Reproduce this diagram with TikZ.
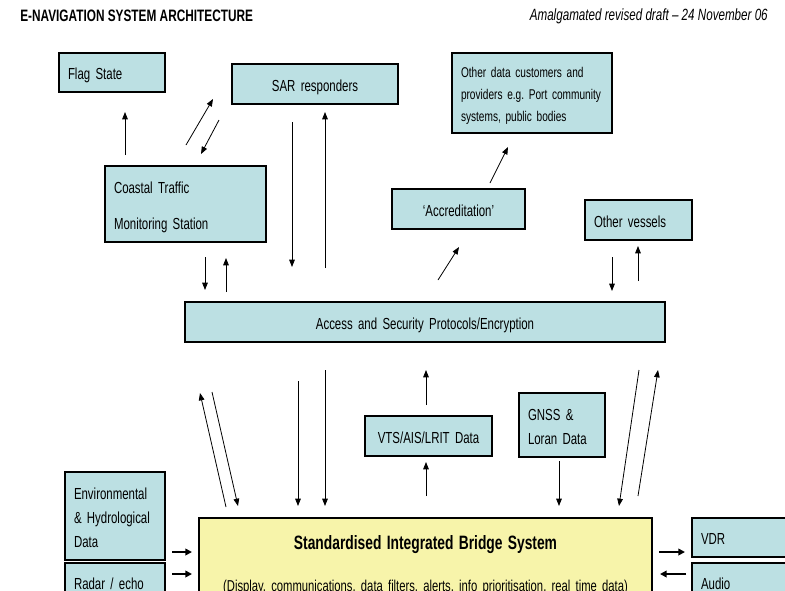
\documentclass[tikz,border=0pt]{standalone}
\usepackage{fontspec}
\setmainfont{Liberation Sans}[FakeStretch=0.715]
\usetikzlibrary{arrows.meta}
\definecolor{boxblue}{HTML}{BCE0E3}
\definecolor{ibsyellow}{HTML}{F7F4AA}
\tikzset{
  panel/.style={draw=black, line width=0.8pt, fill=boxblue, inner sep=0pt,
    font=\fontsize{12}{14}\selectfont,
    text height=11pt, text depth=0pt},
  leftpanel/.style={panel, execute at begin node=\raggedright},
  midpanel/.style={panel, execute at begin node=\centering},
  link/.style={line width=0.6pt, -{Triangle[length=5.5pt,width=4.2pt]}},
  feed/.style={line width=1.3pt, -{Triangle[length=5pt,width=5pt]}},
}
% box from (x1,y1) to (x2,y2) in pixel-like units, text block 9 units in from each side
\newcommand\panelat[6]{%
  \pgfmathsetlengthmacro\pw{(#4-#2)*0.75pt}%
  \pgfmathsetlengthmacro\ph{(#5-#3)*0.75pt}%
  \pgfmathsetlengthmacro\tw{(#4-#2-18)*0.75pt}%
  \node[#1, minimum width=\pw, minimum height=\ph, text width=\tw] (#6)
    at ({(#2+#4)/2},{(#3+#5)/2})}
\begin{document}
\frenchspacing
\hyphenpenalty=10000
\begin{tikzpicture}[x=0.75pt, y=-0.75pt]
\useasboundingbox (0,0) rectangle (785,590);
\clip (0,0) rectangle (785,590);

% headers
\node[anchor=west, inner sep=0pt, font=\bfseries\fontsize{12.4}{14}\selectfont] (title) at (20,16) {E-NAVIGATION SYSTEM ARCHITECTURE};
\node[anchor=east, inner sep=0pt, font=\itshape\fontsize{12.2}{14}\selectfont] (draft) at (768,16) {Amalgamated revised draft – 24 November 06};

% boxes
\panelat{leftpanel}{59}{53}{165}{92}{flag} {Flag State};
\panelat{midpanel}{232}{64}{398}{104}{sar} {SAR responders};
\panelat{leftpanel, font=\fontsize{10.6}{16.5}\selectfont, text depth=33pt, text height=10pt}{452}{53}{612}{133}{others} {Other data customers and\\providers e.g. Port community\\systems, public bodies};
\panelat{leftpanel, font=\fontsize{12}{27}\selectfont, text depth=27pt}{105}{166}{266}{242}{cts} {Coastal Traffic\\Monitoring Station};
\panelat{midpanel}{392}{189}{525}{229}{accr} {‘Accreditation’};
\panelat{leftpanel}{585}{200}{692}{240}{vessels} {Other vessels};
\panelat{midpanel}{185}{302}{665}{342}{access} {Access and Security Protocols/Encryption};
\panelat{midpanel}{365}{416}{492}{456}{vts} {VTS/AIS/LRIT Data};
\panelat{leftpanel, font=\fontsize{12}{18.5}\selectfont, text depth=18.5pt}{519}{393}{605}{457}{gnss} {GNSS \&\\Loran Data};
\panelat{leftpanel, font=\fontsize{12}{18}\selectfont, text depth=36pt}{65}{472}{165}{560}{env} {Environmental\\\& Hydrological\\Data};
\panelat{leftpanel}{65}{563}{165}{601}{radar} {Radar / echo};
\panelat{midpanel, fill=ibsyellow, font=\fontsize{11.8}{14}\selectfont, text height=10.8pt, text depth=31.5pt}{199}{518}{652}{609}{ibs}
  {{\bfseries\fontsize{14.5}{17}\selectfont Standardised Integrated Bridge System}\\[17.5pt]
   (Display, communications, data filters, alerts, info prioritisation, real time data)};
\panelat{leftpanel}{692}{518}{800}{557}{vdr} {VDR};
\panelat{leftpanel}{692}{563}{800}{601}{audio} {Audio};

% connector end points
\coordinate (flagA) at (125,155);  \coordinate (flagB) at (125,112);
\coordinate (ctsA) at (186,145);   \coordinate (ctsB) at (213,99);
\coordinate (sarA) at (219,120);   \coordinate (sarB) at (201,154);
\coordinate (sarC) at (292,122);   \coordinate (sarD) at (292,267);
\coordinate (sarE) at (325,268);   \coordinate (sarF) at (325,112);
\coordinate (ctsC) at (205,257);   \coordinate (ctsD) at (205,290);
\coordinate (ctsE) at (226,292);   \coordinate (ctsF) at (226,258);
\coordinate (accA) at (490,183);   \coordinate (accB) at (508,147);
\coordinate (accC) at (438,280);   \coordinate (accD) at (459,247);
\coordinate (vesA) at (612,257);   \coordinate (vesB) at (612,291);
\coordinate (vesC) at (638,281);   \coordinate (vesD) at (638,246);
\coordinate (ibsA) at (226,507);   \coordinate (ibsB) at (200,393);
\coordinate (ibsC) at (212,392);   \coordinate (ibsD) at (238,506);
\coordinate (ibsE) at (298,381);   \coordinate (ibsF) at (298,506);
\coordinate (ibsG) at (325,370);   \coordinate (ibsH) at (325,506);
\coordinate (vtsA) at (426,405);   \coordinate (vtsB) at (426,370);
\coordinate (vtsC) at (426,496);   \coordinate (vtsD) at (426,462);
\coordinate (gnsA) at (559,461);   \coordinate (gnsB) at (559,506);
\coordinate (ibsI) at (639,370);   \coordinate (ibsJ) at (619,506);
\coordinate (ibsK) at (638,496);   \coordinate (ibsL) at (658,370);
\coordinate (envA) at (172,552);   \coordinate (envB) at (192,552);
\coordinate (radA) at (172,574);   \coordinate (radB) at (192,574);
\coordinate (vdrA) at (659,552);   \coordinate (vdrB) at (685,552);
\coordinate (audA) at (686,574);   \coordinate (audB) at (660,574);

% connectors
\draw[link] (flagA) -- (flagB);
\draw[link] (ctsA) -- (ctsB);
\draw[link] (sarA) -- (sarB);
\draw[link] (sarC) -- (sarD);
\draw[link] (sarE) -- (sarF);
\draw[link] (ctsC) -- (ctsD);
\draw[link] (ctsE) -- (ctsF);
\draw[link] (accA) -- (accB);
\draw[link] (accC) -- (accD);
\draw[link] (vesA) -- (vesB);
\draw[link] (vesC) -- (vesD);
\draw[link] (ibsA) -- (ibsB);
\draw[link] (ibsC) -- (ibsD);
\draw[link] (ibsE) -- (ibsF);
\draw[link] (ibsG) -- (ibsH);
\draw[link] (vtsA) -- (vtsB);
\draw[link] (vtsC) -- (vtsD);
\draw[link] (gnsA) -- (gnsB);
\draw[link] (ibsI) -- (ibsJ);
\draw[link] (ibsK) -- (ibsL);
\draw[feed] (envA) -- (envB);
\draw[feed] (radA) -- (radB);
\draw[feed] (vdrA) -- (vdrB);
\draw[feed] (audA) -- (audB);
\end{tikzpicture}
\end{document}
